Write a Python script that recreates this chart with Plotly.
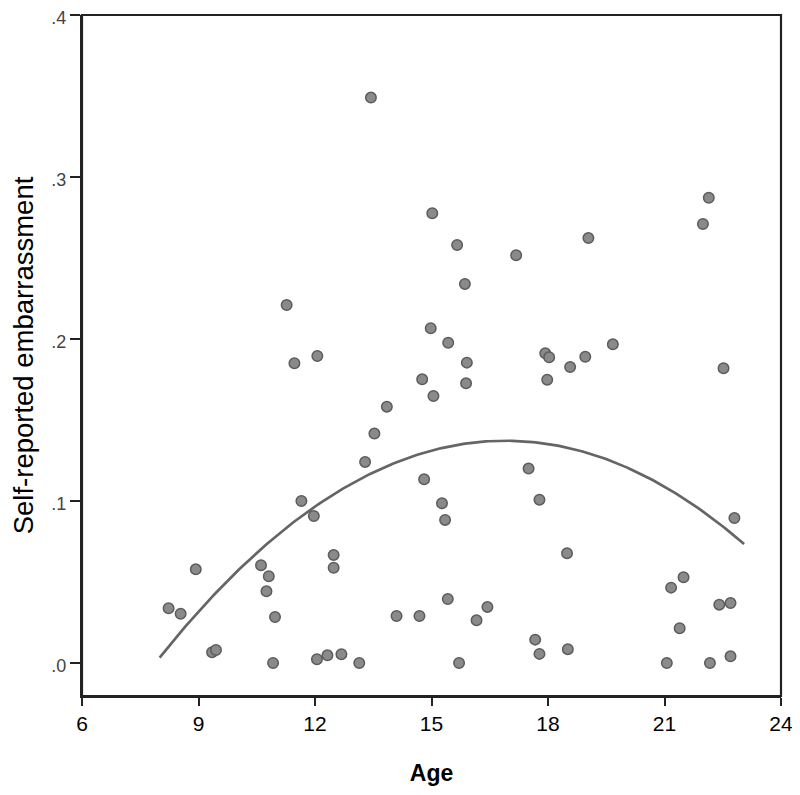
import numpy as np
import plotly.graph_objects as go

# Data
age = [8.23, 8.54, 8.93, 9.35, 9.45, 10.61, 10.75, 10.81, 10.92, 10.97,
       11.27, 11.47, 11.65, 11.97, 12.05, 12.06, 12.32, 12.48, 12.48, 12.68,
       13.14, 13.29, 13.44, 13.53, 13.85, 14.10, 14.69, 14.76, 14.81, 14.98,
       15.02, 15.05, 15.27, 15.35, 15.42, 15.43, 15.66, 15.71, 15.86, 15.89,
       15.91, 16.16, 16.44, 17.18, 17.50, 17.67, 17.78, 17.78, 17.93, 17.98,
       18.03, 18.49, 18.51, 18.57, 18.96, 19.04, 19.67, 21.06, 21.17, 21.39,
       21.49, 21.99, 22.14, 22.17, 22.41, 22.52, 22.70, 22.70, 22.80]
embarrassment = [0.0338, 0.0304, 0.0578, 0.0066, 0.0080, 0.0603, 0.0442, 0.0535, 0.0000, 0.0284,
                 0.221, 0.185, 0.100, 0.0907, 0.0023, 0.1895, 0.0047, 0.0667, 0.0588, 0.0054,
                 0.0000, 0.1241, 0.349, 0.1416, 0.1582, 0.029, 0.029, 0.1751, 0.1134, 0.2066,
                 0.2776, 0.1648, 0.0986, 0.0883, 0.0395, 0.1977, 0.258, 0.000, 0.234, 0.1726,
                 0.1854, 0.0263, 0.0346, 0.2517, 0.120, 0.0144, 0.1008, 0.0056, 0.1912, 0.1749,
                 0.1887, 0.0677, 0.0085, 0.1827, 0.189, 0.2623, 0.1967, 0.000, 0.0465, 0.0214,
                 0.0529, 0.271, 0.2872, 0.000, 0.036, 0.1819, 0.037, 0.0041, 0.0895]

# Quadratic fit line (coefficients a*x^2 + b*x + c) and its x-span
fit_coef = [-0.001689, 0.05710, -0.3454]
fit_x_start = 8.0
fit_x_end = 23.05

x_ticks = [6, 9, 12, 15, 18, 21, 24]
y_ticks = [0.0, 0.1, 0.2, 0.3, 0.4]
y_tick_labels = [".0", ".1", ".2", ".3", ".4"]

fit_x = np.linspace(fit_x_start, fit_x_end, 200)
fit_y = np.polyval(fit_coef, fit_x)

fig = go.Figure()
fig.add_trace(go.Scatter(
    x=fit_x, y=fit_y, mode="lines",
    line=dict(color="#656565", width=2.7),
    hoverinfo="skip", showlegend=False,
))
fig.add_trace(go.Scatter(
    x=age, y=embarrassment, mode="markers",
    marker=dict(size=10.5, color="#8a8a8a", line=dict(color="#5c5c5c", width=1.5)),
    showlegend=False,
))

# plot frame (top and right edges included)
fig.add_shape(type="rect", xref="paper", yref="paper", x0=0, y0=0, x1=1, y1=1,
              line=dict(color="#222", width=2.2), layer="above")

fig.update_layout(
    width=792, height=779,
    margin=dict(l=74, r=19, t=7, b=91, autoexpand=False),
    paper_bgcolor="white", plot_bgcolor="white",
    font=dict(family="Liberation Sans, Arial, sans-serif", color="black"),
    xaxis=dict(
        range=[6, 24], tickvals=x_ticks, ticks="outside", ticklen=8, tickwidth=1.5,
        tickcolor="#222", showline=True, linecolor="#222", linewidth=2.2,
        showgrid=False, zeroline=False, ticklabeloverflow="allow", automargin=False,
        tickfont=dict(size=21, color="black"),
        title=dict(text="<b>Age</b>", font=dict(size=23, color="black"), standoff=31),
    ),
    yaxis=dict(
        range=[-0.0204, 0.4], tickvals=y_ticks, ticktext=y_tick_labels,
        ticks="outside", ticklen=10, tickwidth=1.5, tickcolor="#222",
        showline=True, linecolor="#222", linewidth=2.2,
        showgrid=False, zeroline=False, ticklabeloverflow="allow", automargin=False,
        ticklabelshift=3,
        tickfont=dict(size=18, color="#444"),
        title=dict(text="Self-reported embarrassment", font=dict(size=27.5, color="black"), standoff=17),
    ),
)

fig.write_html("out.html")
